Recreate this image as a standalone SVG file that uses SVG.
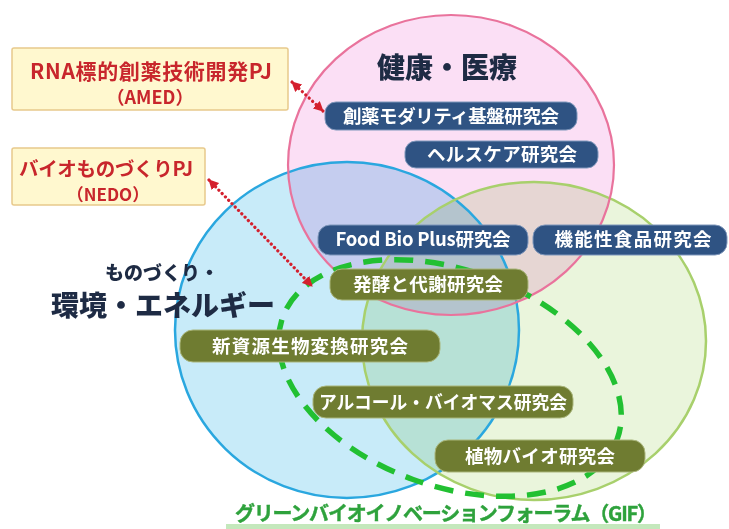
<svg xmlns="http://www.w3.org/2000/svg" width="729" height="529" viewBox="0 0 729 529">
<defs>
<style>
.fillc{mix-blend-mode:multiply;stroke:none}
.t{font-family:"Noto Sans CJK JP","Noto Sans",sans-serif;font-weight:700}
.bx{font-size:18.5px;fill:#ffffff;text-anchor:middle}
.navy rect{fill:#2f5383;stroke:#7f97bb;stroke-width:1}
.olive rect{fill:#6f7c31;stroke:#a9b57a;stroke-width:1}
.pj rect{fill:#fff8cf;stroke:#e8c98c;stroke-width:1.5}
.pj text{fill:#c8262c;text-anchor:middle}
.head{fill:#1e2b44;text-anchor:middle;font-weight:900}
.dot{stroke:#d4202e;stroke-width:3.2;stroke-dasharray:0.1 4.6;stroke-linecap:round;fill:none}
</style>
<marker id="ah" viewBox="0 0 10 10" refX="9" refY="5" markerWidth="3.2" markerHeight="3.2" orient="auto-start-reverse" markerUnits="strokeWidth">
<path d="M0,0 L10,5 L0,10 z" fill="#d4202e"/>
</marker>
</defs>
<rect width="729" height="529" fill="#ffffff"/>

<g id="circles">
<ellipse class="fillc" cx="347" cy="330" rx="172" ry="168" fill="#c8ebf9"/>
<ellipse class="fillc" cx="534" cy="341" rx="172" ry="159" fill="#eaf5dc"/>
<ellipse class="fillc" cx="451" cy="165" rx="163" ry="150" fill="#fbdff5"/>
<ellipse cx="347" cy="330" rx="172" ry="168" fill="none" stroke="#2aa7df" stroke-width="2.5"/>
<ellipse cx="534" cy="341" rx="172" ry="159" fill="none" stroke="#a8d06c" stroke-width="2.5"/>
<ellipse cx="451" cy="165" rx="163" ry="150" fill="none" stroke="#e9739c" stroke-width="2.2"/>
</g>

<g id="gif-area">
<ellipse cx="450" cy="378" rx="178" ry="108" transform="rotate(20 450 378)" fill="none" stroke="#22c032" stroke-width="5.5" stroke-dasharray="19 12"/>
</g>

<g id="heading-health"><text class="t head" x="447" y="78" font-size="28">健康・医療</text></g>
<g id="heading-env">
<text class="t head" x="162" y="280" font-size="19">ものづくり・</text>
<text class="t head" x="163" y="316" font-size="28">環境・エネルギー</text>
</g>

<g id="n-souyaku" class="navy"><rect x="325" y="102" width="252" height="28" rx="11"/><text class="t bx" x="451" y="122.5" textLength="216">創薬モダリティ基盤研究会</text></g>
<g id="n-health" class="navy"><rect x="405" y="141" width="193" height="27" rx="11"/><text class="t bx" x="502" y="161" textLength="150">ヘルスケア研究会</text></g>
<g id="n-foodbio" class="navy"><rect x="318" y="225" width="210" height="30" rx="12"/><text class="t bx" x="423" y="246" textLength="175">Food Bio Plus研究会</text></g>
<g id="n-kinou" class="navy"><rect x="533" y="225" width="194" height="30" rx="12"/><text class="t bx" x="633" y="246" textLength="157">機能性食品研究会</text></g>
<g id="n-hakkou" class="olive"><rect x="330" y="269" width="198" height="31" rx="12"/><text class="t bx" x="428" y="291" textLength="150">発酵と代謝研究会</text></g>
<g id="n-shinshigen" class="olive"><rect x="180" y="330" width="260" height="32" rx="13"/><text class="t bx" x="310" y="352.5" textLength="196">新資源生物変換研究会</text></g>
<g id="n-alcohol" class="olive"><rect x="313" y="386" width="260" height="32" rx="13"/><text class="t bx" x="443" y="408.5" font-size="17.5px" textLength="248" lengthAdjust="spacingAndGlyphs">アルコール・バイオマス研究会</text></g>
<g id="n-shokubutsu" class="olive"><rect x="435" y="440" width="210" height="32" rx="13"/><text class="t bx" x="540" y="462.5" textLength="150">植物バイオ研究会</text></g>

<g id="pj-amed" class="pj"><rect x="12" y="48" width="276" height="62" rx="2"/>
<text class="t" x="151" y="79" font-size="21" textLength="242">RNA標的創薬技術開発PJ</text>
<text class="t" x="150" y="104" font-size="18">（AMED）</text></g>
<g id="pj-nedo" class="pj"><rect x="12" y="148" width="193" height="57" rx="2"/>
<text class="t" x="106" y="176" font-size="19.5" textLength="174">バイオものづくりPJ</text>
<text class="t" x="108" y="201" font-size="17">（NEDO）</text></g>

<g id="connectors">
<line class="dot" x1="292" y1="82" x2="323" y2="111" marker-start="url(#ah)" marker-end="url(#ah)"/>
<line class="dot" x1="209" y1="180" x2="312" y2="286" marker-start="url(#ah)" marker-end="url(#ah)"/>
</g>

<g id="footer">
<rect x="226" y="524" width="434" height="5" fill="#c4e8bc"/>
<text class="t" x="446" y="521" font-size="20" font-weight="900" fill="#2ea23c" stroke="#2ea23c" stroke-width="0.4" text-anchor="middle" textLength="422">グリーンバイオイノベーションフォーラム（GIF）</text>
</g>
</svg>
